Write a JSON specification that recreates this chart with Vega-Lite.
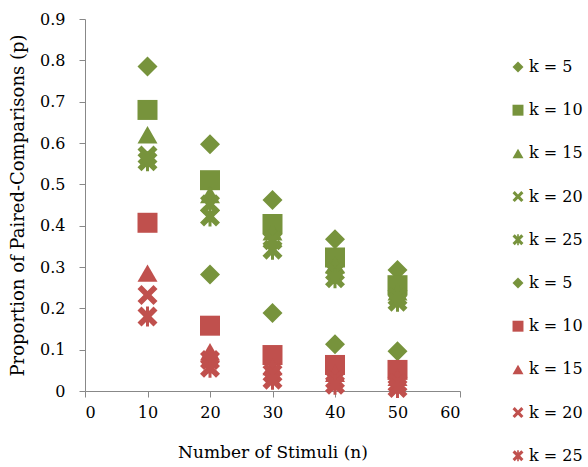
{
  "$schema": "https://vega.github.io/schema/vega-lite/v6.json",
  "width": 375,
  "height": 372,
  "autosize": "none",
  "padding": {"left": 85, "top": 19, "right": 128, "bottom": 76},
  "background": "white",
  "config": {"view": {"stroke": null}, "font": "DejaVu Serif"},
  "data": {"values": [
    {"n": 10, "p": 0.785, "series": "A5"}, {"n": 20, "p": 0.597, "series": "A5"}, {"n": 30, "p": 0.462, "series": "A5"}, {"n": 40, "p": 0.367, "series": "A5"}, {"n": 50, "p": 0.293, "series": "A5"},
    {"n": 10, "p": 0.68, "series": "A10"}, {"n": 20, "p": 0.51, "series": "A10"}, {"n": 30, "p": 0.404, "series": "A10"}, {"n": 40, "p": 0.323, "series": "A10"}, {"n": 50, "p": 0.256, "series": "A10"},
    {"n": 10, "p": 0.62, "series": "A15"}, {"n": 20, "p": 0.475, "series": "A15"}, {"n": 30, "p": 0.385, "series": "A15"}, {"n": 40, "p": 0.305, "series": "A15"}, {"n": 50, "p": 0.24, "series": "A15"},
    {"n": 10, "p": 0.57, "series": "A20"}, {"n": 20, "p": 0.452, "series": "A20"}, {"n": 30, "p": 0.365, "series": "A20"}, {"n": 40, "p": 0.289, "series": "A20"}, {"n": 50, "p": 0.228, "series": "A20"},
    {"n": 10, "p": 0.556, "series": "A25"}, {"n": 20, "p": 0.422, "series": "A25"}, {"n": 30, "p": 0.342, "series": "A25"}, {"n": 40, "p": 0.273, "series": "A25"}, {"n": 50, "p": 0.216, "series": "A25"},
    {"n": 20, "p": 0.282, "series": "B5"}, {"n": 30, "p": 0.189, "series": "B5"}, {"n": 40, "p": 0.113, "series": "B5"}, {"n": 50, "p": 0.096, "series": "B5"},
    {"n": 10, "p": 0.407, "series": "B10"}, {"n": 20, "p": 0.158, "series": "B10"}, {"n": 30, "p": 0.087, "series": "B10"}, {"n": 40, "p": 0.063, "series": "B10"}, {"n": 50, "p": 0.051, "series": "B10"},
    {"n": 10, "p": 0.285, "series": "B15"}, {"n": 20, "p": 0.095, "series": "B15"}, {"n": 30, "p": 0.059, "series": "B15"}, {"n": 40, "p": 0.043, "series": "B15"}, {"n": 50, "p": 0.033, "series": "B15"},
    {"n": 10, "p": 0.232, "series": "B20"}, {"n": 20, "p": 0.075, "series": "B20"}, {"n": 30, "p": 0.043, "series": "B20"}, {"n": 40, "p": 0.027, "series": "B20"}, {"n": 50, "p": 0.019, "series": "B20"},
    {"n": 10, "p": 0.18, "series": "B25"}, {"n": 20, "p": 0.056, "series": "B25"}, {"n": 30, "p": 0.027, "series": "B25"}, {"n": 40, "p": 0.015, "series": "B25"}, {"n": 50, "p": 0.007, "series": "B25"}
  ]},
  "mark": {"type": "point", "filled": true, "opacity": 1, "size": 400},
  "encoding": {
    "x": {
      "field": "n", "type": "quantitative",
      "scale": {"domain": [0, 60], "nice": false, "zero": true},
      "axis": {
        "values": [0, 10, 20, 30, 40, 50, 60], "grid": false,
        "title": "Number of Stimuli (n)", "titleFontSize": 17, "titleFontWeight": "normal", "titleColor": "black", "titlePadding": 24,
        "labelFontSize": 16, "labelColor": "black", "labelPadding": 7,
        "domainColor": "#888888", "tickColor": "#888888", "tickSize": 6
      }
    },
    "y": {
      "field": "p", "type": "quantitative",
      "scale": {"domain": [0, 0.9], "nice": false},
      "axis": {
        "values": [0, 0.1, 0.2, 0.3, 0.4, 0.5, 0.6, 0.7, 0.8, 0.9], "format": ".1~f", "grid": false,
        "title": "Proportion of Paired-Comparisons (p)", "titleFontSize": 18, "titleFontWeight": "normal", "titleColor": "black", "titlePadding": 12,
        "labelFontSize": 16, "labelColor": "black", "labelPadding": 14,
        "domainColor": "#888888", "tickColor": "#888888", "tickSize": 6
      }
    },
    "color": {
      "field": "series", "type": "nominal",
      "scale": {
        "domain": ["A5", "A10", "A15", "A20", "A25", "B5", "B10", "B15", "B20", "B25"],
        "range": ["#77933C", "#77933C", "#77933C", "#77933C", "#77933C", "#77933C", "#C0504D", "#C0504D", "#C0504D", "#C0504D"]
      },
      "legend": {
        "orient": "none", "legendX": 425, "legendY": 40, "title": null,
        "labelExpr": "'k = ' + substring(datum.label, 1)",
        "labelFontSize": 16, "labelColor": "black", "symbolSize": 120, "rowPadding": 27.2, "labelOffset": 3
      }
    },
    "shape": {
      "field": "series", "type": "nominal",
      "scale": {
        "domain": ["A5", "A10", "A15", "A20", "A25", "B5", "B10", "B15", "B20", "B25"],
        "range": ["diamond", "square", "triangle-up",
          "M-1,-0.6L-0.6,-1L0,-0.4L0.6,-1L1,-0.6L0.4,0L1,0.6L0.6,1L0,0.4L-0.6,1L-1,0.6L-0.4,0Z",
          "M-1,-0.6L-0.6,-1L0,-0.4L0.6,-1L1,-0.6L0.4,0L1,0.6L0.6,1L0,0.4L-0.6,1L-1,0.6L-0.4,0ZM-0.15,-1L0.15,-1L0.15,1L-0.15,1Z",
          "diamond", "square", "triangle-up",
          "M-1,-0.6L-0.6,-1L0,-0.4L0.6,-1L1,-0.6L0.4,0L1,0.6L0.6,1L0,0.4L-0.6,1L-1,0.6L-0.4,0Z",
          "M-1,-0.6L-0.6,-1L0,-0.4L0.6,-1L1,-0.6L0.4,0L1,0.6L0.6,1L0,0.4L-0.6,1L-1,0.6L-0.4,0ZM-0.15,-1L0.15,-1L0.15,1L-0.15,1Z"]
      },
      "legend": {
        "orient": "none", "legendX": 425, "legendY": 40, "title": null,
        "labelExpr": "'k = ' + substring(datum.label, 1)",
        "labelFontSize": 16, "labelColor": "black", "symbolSize": 120, "rowPadding": 27.2, "labelOffset": 3
      }
    }
  }
}
